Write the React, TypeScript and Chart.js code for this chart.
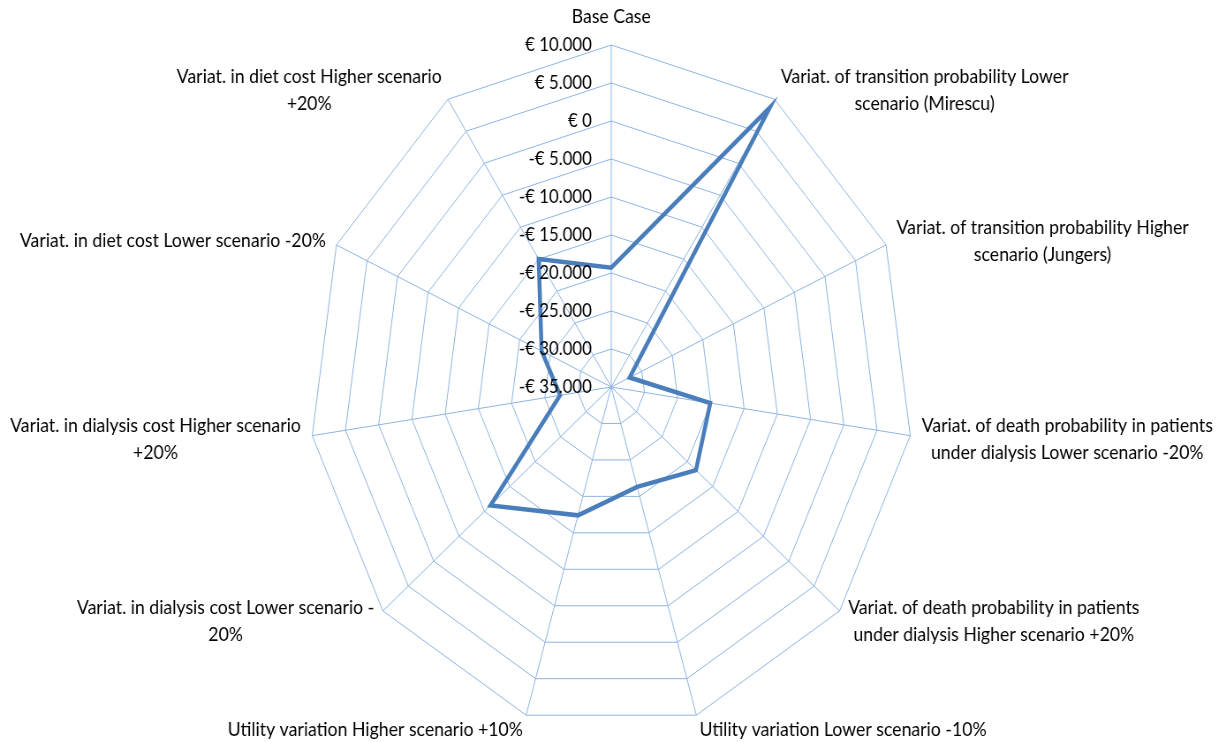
import React, { useEffect, useRef } from "react";
import { Chart, registerables } from "chart.js";

Chart.register(...registerables);

// Scenario names, one array of lines per spoke (clockwise from the top)
const categories: string[][] = [
  ["Base Case"],
  ["Variat. of transition probability Lower", "scenario (Mirescu)"],
  ["Variat. of transition probability Higher", "scenario (Jungers)"],
  ["Variat. of death probability in patients", "under dialysis Lower scenario -20%"],
  ["Variat. of death probability in patients", "under dialysis Higher scenario +20%"],
  ["Utility variation Lower scenario -10%"],
  ["Utility variation Higher scenario +10%"],
  ["Variat. in dialysis cost Lower scenario -", "20%"],
  ["Variat. in dialysis cost Higher scenario", "+20%"],
  ["Variat. in diet cost Lower scenario -20%"],
  ["Variat. in diet cost Higher scenario", "+20%"],
];

// Result per scenario (€)
const scenarioValues: number[] = [
  -19300, 8700, -32000, -20100, -18300, -21300, -17400, -11200, -27300, -23600, -15000,
];

// Value axis
const axisMin = -35000;
const axisMax = 10000;
const axisStep = 5000;
const tickLabels: string[] = [
  "-€ 35.000",
  "-€ 30.000",
  "-€ 25.000",
  "-€ 20.000",
  "-€ 15.000",
  "-€ 10.000",
  "-€ 5.000",
  "€ 0",
  "€ 5.000",
  "€ 10.000",
];

// Drawing surface is wider than its on-screen box, giving the elliptical web
const CANVAS_W = 1388;
const CANVAS_H = 742;
const SCREEN_W = 1226;
const SCREEN_H = 742;

const FONT_FAMILY = "Lato, 'Open Sans', sans-serif";
const TICK_FONT_SIZE = 19;
const LABEL_FONT_SIZE = 20;
const LINE_H = 26.5;
const GRID_COLOR = "#8DB4E2";
const LINE_COLOR = "#4A7EBB";

const textPlugin = {
  id: "radarText",
  afterDatasetsDraw(chart: any) {
    const scale = chart.scales.r;
    const ctx: CanvasRenderingContext2D = chart.ctx;
    const n = categories.length;
    ctx.save();
    ctx.fillStyle = "#000000";

    // value labels beside the vertical spoke
    ctx.font = `${TICK_FONT_SIZE}px ${FONT_FAMILY}`;
    ctx.textAlign = "right";
    ctx.textBaseline = "middle";
    scale.ticks.forEach((t: any, i: number) => {
      const d = scale.getDistanceFromCenterForValue(t.value);
      const p = scale.getPointPosition(0, d);
      const label = tickLabels[i];
      if (label) ctx.fillText(label, p.x - 22, p.y);
    });

    // spoke names, centred within their block
    ctx.font = `${LABEL_FONT_SIZE}px ${FONT_FAMILY}`;
    ctx.textAlign = "center";
    categories.forEach((lines, i) => {
      const p = scale.getPointPosition(i, scale.drawingArea + 13);
      const angle = (i * 360) / n;
      const w = Math.max(...lines.map((l) => ctx.measureText(l).width));
      const h = lines.length * LINE_H;
      let left: number;
      let top: number;
      if (i === 0) {
        left = p.x - w / 2;
        top = p.y - h - 2;
      } else if (angle < 180) {
        left = p.x;
        top = p.y - h / 2 + 1.5;
      } else {
        left = p.x - w;
        top = p.y - h / 2 + 1.5;
      }
      lines.forEach((ln, k) => {
        ctx.fillText(ln, left + w / 2, top + LINE_H * (k + 0.5));
      });
    });
    ctx.restore();
  },
};

export default function App() {
  const canvasRef = useRef<HTMLCanvasElement | null>(null);

  useEffect(() => {
    const canvas = canvasRef.current;
    if (!canvas) return;
    const chart = new Chart(canvas, {
      type: "radar",
      data: {
        labels: categories.map((c) => c.join(" ")),
        datasets: [
          {
            label: "Scenario",
            data: scenarioValues,
            borderColor: LINE_COLOR,
            borderWidth: 4.5,
            backgroundColor: "transparent",
            fill: false,
            pointRadius: 0,
            pointHoverRadius: 0,
            tension: 0,
            borderJoinStyle: "miter",
          },
        ],
      },
      options: {
        responsive: false,
        devicePixelRatio: 1,
        animation: false,
        events: [],
        layout: { padding: { left: 300, right: 304, top: 45, bottom: 13 } },
        plugins: {
          legend: { display: false },
          tooltip: { enabled: false },
        },
        scales: {
          r: {
            min: axisMin,
            max: axisMax,
            ticks: { stepSize: axisStep, display: false },
            pointLabels: { display: false },
            grid: { color: GRID_COLOR, lineWidth: 1, circular: false },
            angleLines: { color: GRID_COLOR, lineWidth: 1 },
          },
        },
      },
      plugins: [textPlugin],
    });
    return () => chart.destroy();
  }, []);

  return (
    <div
      style={{
        position: "fixed",
        left: 0,
        top: 0,
        width: SCREEN_W,
        height: SCREEN_H,
        background: "#ffffff",
      }}
    >
      <canvas
        ref={canvasRef}
        width={CANVAS_W}
        height={CANVAS_H}
        style={{ width: `${SCREEN_W}px`, height: `${SCREEN_H}px`, display: "block" }}
      />
    </div>
  );
}
